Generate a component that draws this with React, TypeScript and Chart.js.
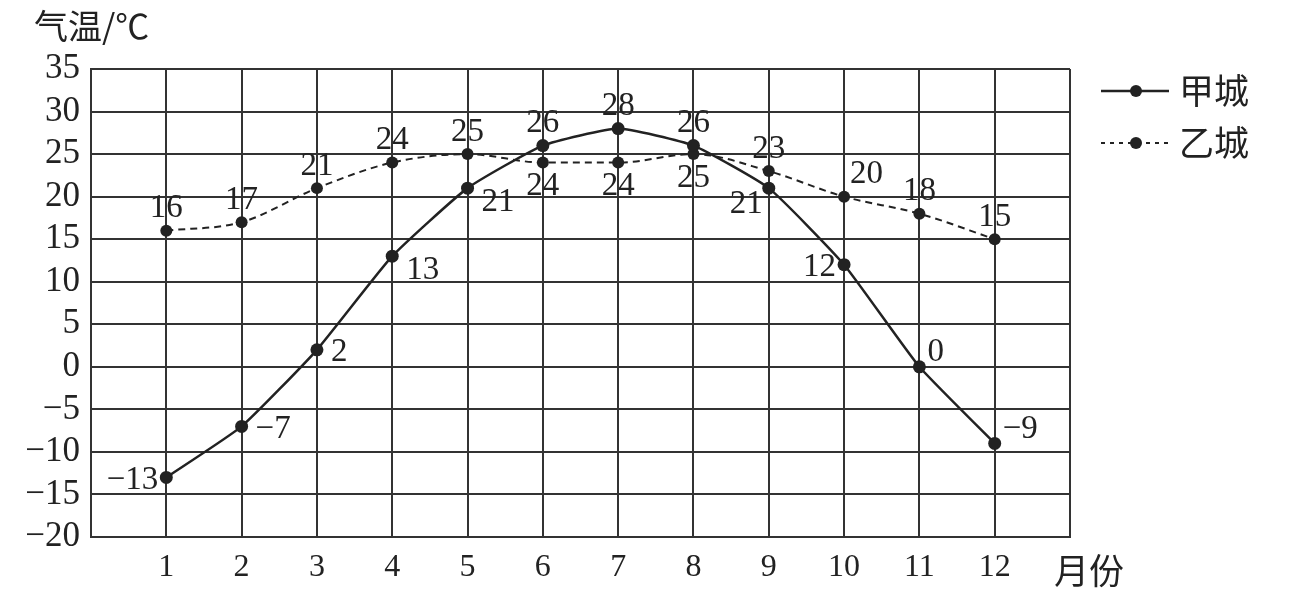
import React, { useEffect, useRef } from "react";
import { Chart, registerables } from "chart.js";

Chart.register(...registerables);

const months = [1, 2, 3, 4, 5, 6, 7, 8, 9, 10, 11, 12];
const cityA = [-13, -7, 2, 13, 21, 26, 28, 26, 21, 12, 0, -9];
const cityB = [16, 17, 21, 24, 25, 24, 24, 25, 23, 20, 18, 15];
const cityALabelPlace = ["l", "r", "r", "rb", "rb", "a", "a", "a", "lb", "l", "ra", "ra"];
const cityBLabelPlace = ["a", "a", "a", "a", "a", "b", "b", "b", "a", "ar", "a", "a"];
const seriesNames = ["甲城", "乙城"];
const yTitle = "气温/℃";
const xTitle = "月份";

const INK = "#222";
const SERIF = "'Liberation Serif', 'DejaVu Serif', serif";
const CJK = "'Noto Sans CJK SC', 'Noto Sans', sans-serif";

const labelsPlugin = {
  id: "pointLabels",
  afterDatasetsDraw(chart: any) {
    const ctx = chart.ctx;
    const places = [cityALabelPlace, cityBLabelPlace];
    const values = [cityA, cityB];
    ctx.save();
    ctx.fillStyle = INK;
    ctx.font = `33px ${SERIF}`;
    chart.data.datasets.forEach((_: any, di: number) => {
      const meta = chart.getDatasetMeta(di);
      meta.data.forEach((pt: any, i: number) => {
        const v = values[di][i];
        const text = v < 0 ? "\u2212" + Math.abs(v) : String(v);
        const p = places[di][i];
        let dx = 0, dy = 0, align: CanvasTextAlign = "center";
        if (p === "a") { dy = -22; }
        else if (p === "ar") { dx = 6; dy = -22; align = "left"; }
        else if (p === "b") { dy = 24; }
        else if (p === "r") { dx = 14; dy = 3; align = "left"; }
        else if (p === "l") { dx = -8; dy = 3; align = "right"; }
        else if (p === "rb") { dx = 14; dy = 14; align = "left"; }
        else if (p === "lb") { dx = -6; dy = 16; align = "right"; }
        else if (p === "ra") { dx = 8; dy = -14; align = "left"; }
        ctx.textAlign = align;
        ctx.textBaseline = "middle";
        ctx.fillText(text, pt.x + dx, pt.y + dy);
      });
    });
    ctx.restore();
  },
  afterDraw(chart: any) {
    const ctx = chart.ctx;
    ctx.save();
    ctx.fillStyle = INK;
    ctx.font = `34px ${CJK}`;
    ctx.textAlign = "left";
    ctx.textBaseline = "middle";
    ctx.fillText(yTitle, 34, 26);
    ctx.font = `35px ${CJK}`;
    ctx.fillText(xTitle, 1054, 571);
    const rows = [
      { y: 91, dash: [] as number[], w: 2.5 },
      { y: 143, dash: [4, 5], w: 1.8 },
    ];
    rows.forEach((r, i) => {
      ctx.strokeStyle = INK;
      ctx.lineWidth = r.w;
      ctx.setLineDash(r.dash);
      ctx.beginPath();
      ctx.moveTo(1101, r.y);
      ctx.lineTo(1169, r.y);
      ctx.stroke();
      ctx.setLineDash([]);
      ctx.beginPath();
      ctx.arc(1136, r.y, 6, 0, Math.PI * 2);
      ctx.fill();
      ctx.font = `35px ${CJK}`;
      ctx.fillText(seriesNames[i], 1179, r.y);
    });
    ctx.restore();
  },
};

export default function App() {
  const ref = useRef<HTMLCanvasElement | null>(null);
  useEffect(() => {
    if (!ref.current) return;
    const chart = new Chart(ref.current, {
      type: "line",
      data: {
        datasets: [
          {
            label: seriesNames[0],
            data: months.map((m, i) => ({ x: m, y: cityA[i] })),
            borderColor: INK,
            backgroundColor: INK,
            borderWidth: 2.5,
            pointRadius: 6.5,
            pointBackgroundColor: INK,
            pointBorderWidth: 0,
            tension: 0.15,
          },
          {
            label: seriesNames[1],
            data: months.map((m, i) => ({ x: m, y: cityB[i] })),
            borderColor: INK,
            backgroundColor: INK,
            borderWidth: 2,
            borderDash: [7, 5],
            pointRadius: 6,
            pointBackgroundColor: INK,
            pointBorderWidth: 0,
            tension: 0.4,
            cubicInterpolationMode: "monotone",
          },
        ],
      },
      plugins: [labelsPlugin],
      options: {
        animation: false,
        responsive: false,
        maintainAspectRatio: false,
        layout: { padding: { left: 0, right: 228, top: 69, bottom: 0 } },
        plugins: { legend: { display: false }, tooltip: { enabled: false } },
        scales: {
          x: {
            type: "linear",
            min: 0,
            max: 13,
            afterFit: (s: any) => { s.height = 58; },
            ticks: {
              stepSize: 1,
              autoSkip: false,
              maxRotation: 0,
              padding: 11,
              color: INK,
              font: { family: SERIF, size: 32 },
              callback: (v: any) => (v === 0 || v === 13 ? "" : String(v)),
            },
            grid: { color: "#333", lineWidth: 2, drawTicks: false },
            border: { color: "#333", width: 2 },
          },
          y: {
            min: -20,
            max: 35,
            afterFit: (s: any) => { s.width = 91; },
            ticks: {
              stepSize: 5,
              autoSkip: false,
              padding: 11,
              color: INK,
              font: { family: SERIF, size: 35 },
              callback: (v: any) => (v < 0 ? "\u2212" + Math.abs(v) : String(v)),
            },
            grid: { color: "#333", lineWidth: 2, drawTicks: false },
            border: { color: "#333", width: 2 },
          },
        },
      },
    } as any);
    return () => chart.destroy();
  }, []);
  return (
    <div style={{ position: "fixed", left: 0, top: 0, width: 1298, height: 595, background: "#fff" }}>
      <canvas ref={ref} width={1298} height={595} style={{ width: 1298, height: 595 }} />
    </div>
  );
}
